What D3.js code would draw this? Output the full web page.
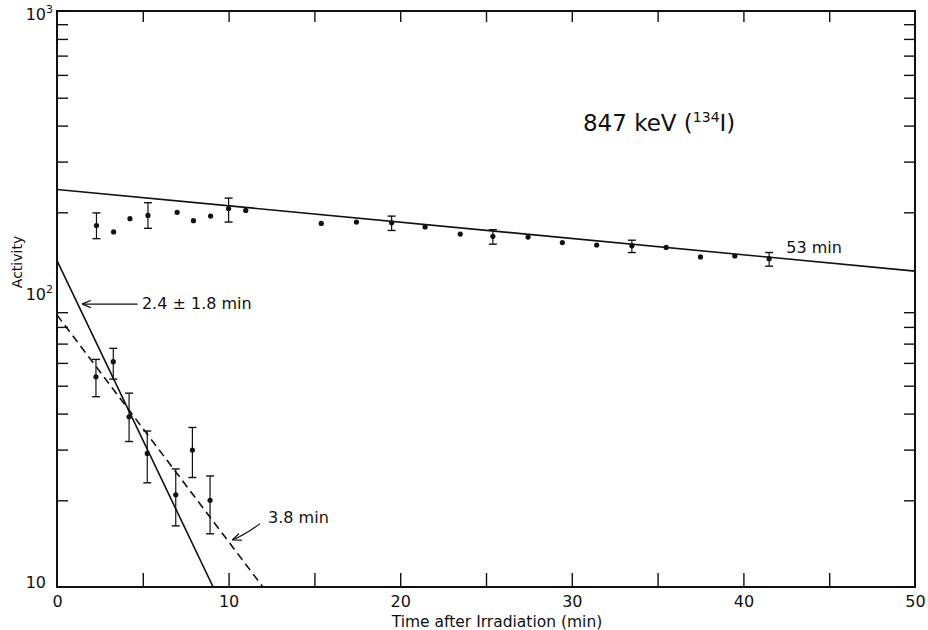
<!DOCTYPE html>
<html>
<head>
<meta charset="utf-8">
<script src="https://cdn.jsdelivr.net/npm/d3@7"></script>
<style>
  body { margin: 0; background: #fff; }
  svg text { font-family: "DejaVu Sans", sans-serif; fill: #111; }
</style>
</head>
<body>
<svg id="chart" width="928" height="630"></svg>
<script>
// upper (53 min) group
var upperTime = [2.3, 3.3, 4.25, 5.3, 7.0, 7.95, 8.95, 10.0, 11.0, 15.4, 17.45, 19.5, 21.45, 23.5, 25.4, 27.45, 29.45, 31.45, 33.5, 35.5, 37.5, 39.5, 41.5];
var upperActivity = [180, 171, 190, 195, 200, 187, 194, 206, 203, 183, 185, 184, 178, 168, 165, 164, 157, 154, 153, 151, 140, 141, 138];
var upperLow = [162, null, null, 176, null, null, null, 185, null, null, null, 173, null, null, 155, null, null, null, 145, null, null, null, 130];
var upperHigh = [199, null, null, 216, null, null, null, 224, null, null, null, 194, null, null, 174, null, null, null, 160, null, null, null, 145];

// lower (short lived) group
var lowerTime = [2.27, 3.28, 4.2, 5.26, 6.92, 7.89, 8.92];
var lowerActivity = [53.7, 60.6, 39, 29.1, 20.9, 29.9, 20.0];
var lowerLow = [45.8, 52.7, 32, 23.0, 16.3, 24.0, 15.3];
var lowerHigh = [61.7, 67.4, 47.1, 34.8, 25.7, 35.8, 24.3];

// fitted decay lines
var fitStartValue = [240, 136, 88];
var fitEndTime = [50, 9.1, 12.0];
var fitEndValue = [125, 10, 10];
var fitDashed = [false, false, true];

var xTicks = [0, 5, 10, 15, 20, 25, 30, 35, 40, 45, 50];
var xLabels = [0, 10, 20, 30, 40, 50];
var yMinor = [20, 30, 40, 50, 60, 70, 80, 90, 200, 300, 400, 500, 600, 700, 800, 900];
var yLabels = [10, 100, 1000];

var pLeft = 57, pRight = 915, pTop = 11, pBottom = 587;
var svg = d3.select('#chart');
var x = d3.scaleLinear().domain([0, 50]).range([pLeft, pRight]);
var y = d3.scaleLog().domain([10, 1000]).range([pBottom, pTop]);

var ink = '#111';

var defs = svg.append('defs');
defs.append('clipPath').attr('id', 'plot')
    .append('rect').attr('x', pLeft).attr('y', pTop).attr('width', pRight - pLeft).attr('height', pBottom - pTop);
defs.append('marker')
    .attr('id', 'head').attr('viewBox', '0 0 10 10').attr('refX', 9).attr('refY', 5)
    .attr('markerWidth', 9).attr('markerHeight', 9).attr('orient', 'auto')
    .attr('markerUnits', 'userSpaceOnUse')
    .append('path').attr('d', 'M0,1 L10,5 L0,9').attr('fill', 'none').attr('stroke', ink).attr('stroke-width', 1.4);

// axes
var xb = svg.append('g').attr('transform', 'translate(0,' + pBottom + ')')
    .call(d3.axisBottom(x).tickValues(xTicks).tickSizeInner(-14).tickSizeOuter(0).tickPadding(9)
        .tickFormat(function (d) { return xLabels.indexOf(d) >= 0 ? d : ''; }));
var xt = svg.append('g').attr('transform', 'translate(0,' + pTop + ')')
    .call(d3.axisTop(x).tickValues(xTicks.slice(1, -1)).tickSizeInner(-11).tickSizeOuter(0).tickFormat(''));
var yl = svg.append('g').attr('transform', 'translate(' + pLeft + ',0)')
    .call(d3.axisLeft(y).tickValues(yMinor).tickSizeInner(-11).tickSizeOuter(0).tickFormat(''));
var yr = svg.append('g').attr('transform', 'translate(' + pRight + ',0)')
    .call(d3.axisRight(y).tickValues(yMinor).tickSizeInner(-11).tickSizeOuter(0).tickFormat(''));
[xb, xt, yl, yr].forEach(function (g) {
    g.select('.domain').remove();
    g.selectAll('line').attr('stroke', ink).attr('stroke-width', 1.4);
    g.selectAll('text').attr('font-size', 16).attr('font-family', '"DejaVu Sans", sans-serif').attr('fill', ink);
});
// first and last x ticks sit on the frame, skip them
xb.selectAll('.tick line').filter(function (d) { return d === 0 || d === 50; }).remove();

svg.append('rect').attr('x', pLeft).attr('y', pTop).attr('width', pRight - pLeft).attr('height', pBottom - pTop)
    .attr('fill', 'none').attr('stroke', ink).attr('stroke-width', 2);

// y labels as powers of ten
yLabels.forEach(function (v) {
    var p = Math.round(Math.log10(v));
    var yy = v === 1000 ? y(v) + 9 : y(v) + 1;
    var t = svg.append('text').attr('x', pLeft - 4).attr('y', yy).attr('text-anchor', 'end').attr('font-size', 16);
    t.append('tspan').text('10');
    if (p > 1) t.append('tspan').attr('font-size', 11).attr('dy', -7).text(p);
    else t.append('tspan').attr('font-size', 11).text('\u2007');
});

svg.append('text').attr('x', 497).attr('y', 627).attr('text-anchor', 'middle').attr('font-size', 15.5)
    .text('Time after Irradiation (min)');
svg.append('text').attr('transform', 'translate(22,262) rotate(-90)').attr('text-anchor', 'middle')
    .attr('font-size', 14).text('Activity');

// fit lines
var lines = svg.append('g').attr('clip-path', 'url(#plot)');
fitStartValue.forEach(function (v, i) {
    lines.append('line')
        .attr('x1', x(0)).attr('y1', y(v))
        .attr('x2', x(fitEndTime[i])).attr('y2', y(fitEndValue[i]))
        .attr('stroke', ink).attr('stroke-width', 1.6)
        .attr('stroke-dasharray', fitDashed[i] ? '8,5' : null);
});

function drawGroup(ts, vs, lo, hi) {
    var g = svg.append('g');
    ts.forEach(function (t, i) {
        if (lo[i] != null) {
            var cx = x(t);
            g.append('line').attr('x1', cx).attr('x2', cx).attr('y1', y(lo[i])).attr('y2', y(hi[i]))
                .attr('stroke', ink).attr('stroke-width', 1.2);
            [lo[i], hi[i]].forEach(function (e) {
                g.append('line').attr('x1', cx - 4).attr('x2', cx + 4).attr('y1', y(e)).attr('y2', y(e))
                    .attr('stroke', ink).attr('stroke-width', 1.4);
            });
        }
        g.append('circle').attr('cx', x(t)).attr('cy', y(vs[i])).attr('r', 2.6).attr('fill', ink);
    });
}
drawGroup(upperTime, upperActivity, upperLow, upperHigh);
drawGroup(lowerTime, lowerActivity, lowerLow, lowerHigh);

// annotations
var title = svg.append('text').attr('x', x(30.65)).attr('y', y(383)).attr('font-size', 23);
title.append('tspan').text('847 keV (');
title.append('tspan').attr('font-size', 14).attr('dy', -9).text('134');
title.append('tspan').attr('dy', 9).text('I)');

svg.append('text').attr('x', x(42.5)).attr('y', y(144.4)).attr('font-size', 16).text('53 min');
svg.append('text').attr('x', x(4.95)).attr('y', y(92.3)).attr('font-size', 16).text('2.4 \u00b1 1.8 min');
svg.append('text').attr('x', x(12.3)).attr('y', y(16.7)).attr('font-size', 16).text('3.8 min');

svg.append('line').attr('x1', x(4.7)).attr('y1', y(96)).attr('x2', x(1.5)).attr('y2', y(96))
    .attr('stroke', ink).attr('stroke-width', 1.2).attr('marker-end', 'url(#head)');
svg.append('path')
    .attr('d', 'M' + x(11.83) + ',' + y(16.6) + ' Q' + x(11.0) + ',' + y(15.2) + ' ' + x(10.26) + ',' + y(14.6))
    .attr('fill', 'none').attr('stroke', ink).attr('stroke-width', 1.2).attr('marker-end', 'url(#head)');
</script>
</body>
</html>
